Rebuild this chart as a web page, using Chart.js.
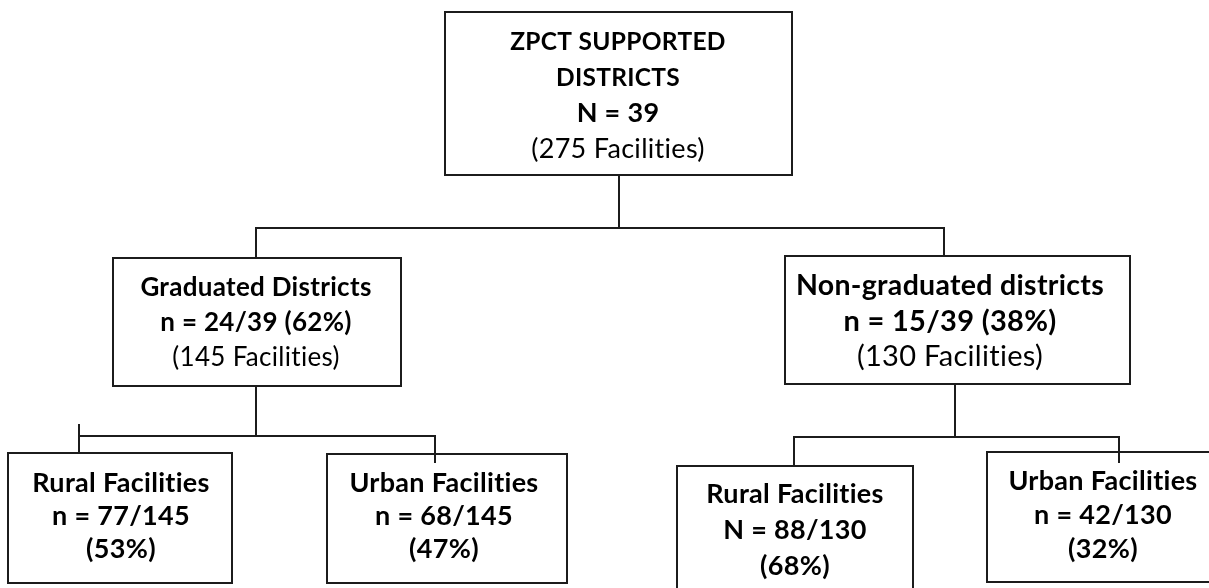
<!DOCTYPE html>
<html>
<head>
<meta charset="utf-8">
<script src="https://cdn.jsdelivr.net/npm/chart.js@4.4.1/dist/chart.umd.min.js"></script>
<style>
  html, body { margin: 0; padding: 0; background: #fff; }
  #flow { display: block; }
</style>
</head>
<body>
<canvas id="flow" width="1209" height="588"></canvas>
<script>
// node contents
let nodeTitles = [
  ["ZPCT SUPPORTED", "DISTRICTS"],
  ["Graduated Districts"],
  ["Non-graduated districts"],
  ["Rural Facilities"],
  ["Urban Facilities"],
  ["Rural Facilities"],
  ["Urban Facilities"],
];
let nodeSymbols = ["N", "n", "n", "n", "n", "N", "n"];
let nodeCounts = [39, 24, 15, 77, 68, 88, 42];
let nodeTotals = [null, 39, 39, 145, 145, 130, 130];
let nodePercents = [null, 62, 38, 53, 47, 68, 32];
let nodeFacilities = [275, 145, 130, null, null, null, null];

// layout in page pixels: left, top, right, bottom, text x, first baseline, line gap, title size, body size
let boxes = [
  [445, 12, 792, 175, 618, 50, 36, 24.5, 27],
  [113, 258, 401, 386, 256, 296, 35, 26, 26],
  [785, 256, 1130, 384, 950, 295, 35.5, 28.5, 29],
  [8, 453, 232, 583, 121, 492, 33, 27, 27],
  [327, 454, 567, 583, 444, 492, 33, 27, 27],
  [677, 466, 913, 600, 795, 503, 36, 27, 27],
  [987, 452, 1215, 582, 1103, 490, 34, 27, 27],
];

// connectors: stem x, stem top, bus y, then drops [x, top, bottom]
let connectors = [
  [619, 175, 228, [[256, 228, 258], [944, 228, 256]]],
  [256, 386, 436, [[79, 425, 453], [435, 436, 462]]],
  [955, 384, 437, [[794, 437, 466], [1119, 437, 462]]],
];

function nodeLines(i) {
  let lines = nodeTitles[i].map((t) => ({ text: t, bold: true, title: true }));
  let nText = nodeSymbols[i] + " = " + nodeCounts[i];
  if (nodeTotals[i] !== null) nText += "/" + nodeTotals[i];
  if (nodeFacilities[i] !== null && nodePercents[i] !== null) {
    nText += " (" + nodePercents[i] + "%)";
  }
  lines.push({ text: nText, bold: true, title: false });
  if (nodeFacilities[i] !== null) {
    lines.push({ text: "(" + nodeFacilities[i] + " Facilities)", bold: false, title: false });
  } else {
    lines.push({ text: "(" + nodePercents[i] + "%)", bold: true, title: false });
  }
  return lines;
}

let lineStyle = {
  showLine: true,
  borderColor: "#1c1c1c",
  borderWidth: 2,
  pointRadius: 0,
  borderJoinStyle: "miter",
  borderCapStyle: "square",
  clip: false,
  tension: 0,
};

let datasets = [];

boxes.forEach((b) => {
  datasets.push({
    ...lineStyle,
    data: [
      { x: b[0], y: b[1] },
      { x: b[2], y: b[1] },
      { x: b[2], y: b[3] },
      { x: b[0], y: b[3] },
      { x: b[0], y: b[1] },
    ],
  });
});

connectors.forEach((c) => {
  datasets.push({ ...lineStyle, data: [{ x: c[0], y: c[1] }, { x: c[0], y: c[2] }] });
  let xs = c[3].map((d) => d[0]);
  datasets.push({
    ...lineStyle,
    data: [{ x: Math.min(...xs), y: c[2] }, { x: Math.max(...xs), y: c[2] }],
  });
  c[3].forEach((d) => {
    datasets.push({ ...lineStyle, data: [{ x: d[0], y: d[1] }, { x: d[0], y: d[2] }] });
  });
});

let boxText = {
  id: "boxText",
  afterDatasetsDraw(chart) {
    let ctx = chart.ctx;
    let sx = chart.scales.x;
    let sy = chart.scales.y;
    ctx.save();
    ctx.fillStyle = "#000";
    ctx.textAlign = "center";
    ctx.textBaseline = "alphabetic";
    // no "ti" ligatures
    ctx.textRendering = "optimizeSpeed";
    ctx.letterSpacing = "0.3px";
    boxes.forEach((b, i) => {
      nodeLines(i).forEach((line, k) => {
        let size = line.title ? b[7] : b[8];
        ctx.font = (line.bold ? "bold " : "") + size + "px Lato";
        ctx.fillText(line.text, sx.getPixelForValue(b[4]), sy.getPixelForValue(b[5] + k * b[6]));
      });
    });
    ctx.restore();
  },
};

let flow = document.getElementById("flow").getContext("2d");

let flowChart = new Chart(flow, {
  type: "scatter",
  data: { datasets: datasets },
  options: {
    responsive: false,
    animation: false,
    devicePixelRatio: 1,
    layout: { padding: 0 },
    scales: {
      x: { type: "linear", min: 0, max: 1209, display: false },
      y: { type: "linear", min: 0, max: 588, reverse: true, display: false },
    },
    plugins: {
      legend: { display: false },
      tooltip: { enabled: false },
    },
  },
  plugins: [boxText],
});
</script>
</body>
</html>
